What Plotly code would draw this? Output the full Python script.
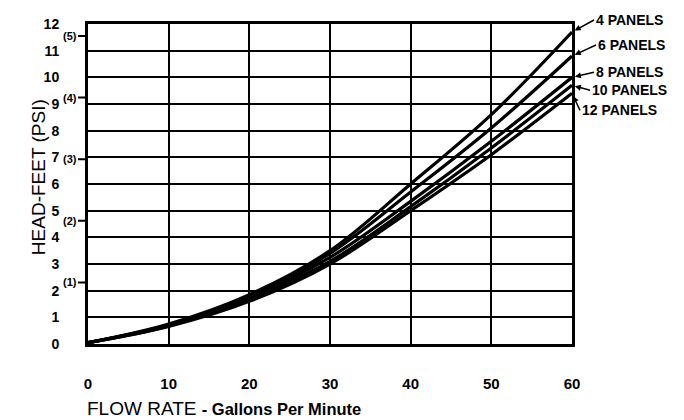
import plotly.graph_objects as go

flow = [0, 10, 20, 30, 40, 50, 60]
panels = ["4 PANELS", "6 PANELS", "8 PANELS", "10 PANELS", "12 PANELS"]
head_4 = [0.05, 0.75, 1.85, 3.5, 6.0, 8.6, 11.7]
head_6 = [0.05, 0.72, 1.8, 3.4, 5.7, 8.1, 10.8]
head_8 = [0.05, 0.70, 1.75, 3.25, 5.35, 7.6, 10.0]
head_10 = [0.05, 0.68, 1.7, 3.1, 5.15, 7.35, 9.7]
head_12 = [0.05, 0.66, 1.6, 3.0, 5.0, 7.1, 9.4]
series = [head_4, head_6, head_8, head_10, head_12]

x_ticks = [0, 10, 20, 30, 40, 50, 60]
y_ticks = list(range(0, 13))
psi_labels = ["(1)", "(2)", "(3)", "(4)", "(5)"]
psi_values = [1, 2, 3, 4, 5]
FT_PER_PSI = 2.31

fig = go.Figure()
for name, ys in zip(panels, series):
    fig.add_trace(go.Scatter(x=flow, y=ys, mode="lines", name=name,
                             line=dict(color="black", width=3.2, shape="spline", smoothing=1.0),
                             showlegend=False, hoverinfo="skip"))

font_main = "Liberation Sans, Arial, sans-serif"

# panel labels with arrows (offsets in pixels from the curve end)
label_offsets = [(22, -12), (24, -11), (22, -5), (18, 5), (8, 17)]
for name, ys, (ax, ay) in zip(panels, series, label_offsets):
    fig.add_annotation(x=60, y=ys[-1], xref="x", yref="y", text="<b>" + name + "</b>",
                       showarrow=True, arrowhead=2, arrowsize=0.8, arrowwidth=1.5,
                       arrowcolor="black", ax=ax, ay=ay, standoff=3,
                       xanchor="left", yanchor="middle",
                       font=dict(family=font_main, size=14, color="black"))

# PSI secondary labels on the y axis
for lab, p in zip(psi_labels, psi_values):
    fig.add_annotation(x=0, y=p * FT_PER_PSI, xref="x", yref="y", text="<b>" + lab + "</b>",
                       showarrow=True, arrowhead=0, arrowwidth=2, arrowcolor="black",
                       ax=-10, ay=0, standoff=0, xanchor="right", yanchor="middle",
                       borderpad=0,
                       font=dict(family=font_main, size=11, color="black"))

fig.add_annotation(x=-0.128, y=0.52, xref="paper", yref="paper", text="HEAD-FEET (PSI)",
                   textangle=-90, showarrow=False,
                   font=dict(family=font_main, size=19, color="black"))
fig.add_annotation(x=-0.006, y=-0.2, xref="paper", yref="paper",
                   text="FLOW RATE <b><span style='font-size:16.5px'>- Gallons Per Minute</span></b>",
                   xanchor="left", yanchor="middle", showarrow=False,
                   font=dict(family=font_main, size=19, color="black"))

fig.update_xaxes(range=[0, 60], tickvals=x_ticks, ticktext=[str(v) for v in x_ticks],
                 showgrid=True, gridcolor="black", gridwidth=2,
                 showline=True, linecolor="black", linewidth=3, mirror=True,
                 zeroline=False, ticks="", ticklabelstandoff=24,
                 tickfont=dict(family=font_main, size=15, color="black", weight="bold"))
fig.update_yaxes(range=[0, 12], tickvals=y_ticks, ticktext=[str(v) for v in y_ticks],
                 showgrid=True, gridcolor="black", gridwidth=2,
                 showline=True, linecolor="black", linewidth=3, mirror=True,
                 zeroline=False, ticks="", ticklabelstandoff=23,
                 tickfont=dict(family=font_main, size=14, color="black", weight="bold"))

fig.update_layout(width=684, height=420, margin=dict(l=88, r=112, t=24, b=76),
                  plot_bgcolor="white", paper_bgcolor="white", hovermode=False)

fig.write_html("out.html", config={"displayModeBar": False},
               post_script="document.body.style.margin='0';")
